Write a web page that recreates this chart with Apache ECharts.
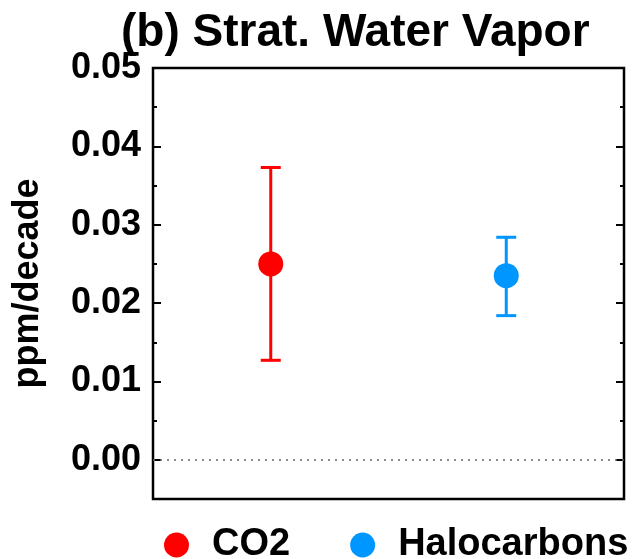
<!DOCTYPE html>
<html>
<head>
<meta charset="utf-8">
<script src="https://cdn.jsdelivr.net/npm/echarts@6/dist/echarts.min.js"></script>
<style>
html,body{margin:0;padding:0;background:#fff;}
#chart{width:635px;height:559px;}
</style>
</head>
<body>
<div id="chart"></div>
<script>
// ---- data ----
const seriesNames = ['CO2', 'Halocarbons'];
const xPositions = [1, 3];
const centralValues = [0.0250, 0.0235];
const lowerValues = [0.0127, 0.0184];
const upperValues = [0.0373, 0.0284];
const seriesColors = ['#ff0000', '#0096ff'];
const majorTicks = [0, 0.01, 0.02, 0.03, 0.04, 0.05];
const minorTicks = [-0.005, 0.005, 0.015, 0.025, 0.035, 0.045];
const yMin = -0.005, yMax = 0.05;
const xMin = 0, xMax = 4;
const titleText = '(b) Strat. Water Vapor';
const yAxisTitle = 'ppm/decade';

const FONT = 'Liberation Sans';
const chart = echarts.init(document.getElementById('chart'), null, {renderer: 'canvas'});

function yAxisDef(pos, ticks, len, showLabel, extra) {
  return Object.assign({
    type: 'value', position: pos, min: yMin, max: yMax,
    axisLine: {show: false},
    splitLine: {show: false},
    axisTick: {show: true, inside: true, length: len, customValues: ticks,
               lineStyle: {color: '#000', width: 2}},
    axisLabel: showLabel ? {
      show: true, customValues: ticks, margin: 12,
      formatter: v => v.toFixed(2),
      color: '#000', fontFamily: FONT, fontWeight: 'bold', fontSize: 36
    } : {show: false}
  }, extra || {});
}

const errorSeries = seriesNames.map((n, i) => ({
  name: n + ' range',
  type: 'custom',
  xAxisIndex: 0, yAxisIndex: 0,
  z: 2,
  silent: true,
  data: [[xPositions[i], lowerValues[i], upperValues[i]]],
  renderItem: function (params, api) {
    const x = api.value(0);
    const lo = api.coord([x, api.value(1)]);
    const hi = api.coord([x, api.value(2)]);
    const hw = 10;
    const style = {stroke: seriesColors[i], lineWidth: 3};
    return {
      type: 'group',
      children: [
        {type: 'line', shape: {x1: lo[0], y1: lo[1], x2: hi[0], y2: hi[1]}, style},
        {type: 'line', shape: {x1: lo[0]-hw, y1: lo[1], x2: lo[0]+hw, y2: lo[1]}, style},
        {type: 'line', shape: {x1: hi[0]-hw, y1: hi[1], x2: hi[0]+hw, y2: hi[1]}, style}
      ]
    };
  }
}));

const pointSeries = seriesNames.map((n, i) => {
  const s = {
    name: n, type: 'scatter', symbol: 'circle', symbolSize: 25, z: 5,
    itemStyle: {color: seriesColors[i], opacity: 1},
    data: [[xPositions[i], centralValues[i]]]
  };
  if (i === 0) {
    s.markLine = {
      silent: true, symbol: ['none', 'none'], label: {show: false},
      lineStyle: {color: '#666', type: [2, 5], width: 1.5},
      data: [{yAxis: 0}]
    };
  }
  return s;
});

chart.setOption({
  animation: false,
  backgroundColor: '#fff',
  title: {
    text: titleText, left: 116, top: 5,
    textStyle: {fontFamily: FONT, fontWeight: 'bold', fontSize: 46, color: '#000'}
  },
  grid: {left: 153, right: 11, top: 68, bottom: 60, show: true, outerBoundsMode: 'none',
         containLabel: false,
         borderColor: '#000', borderWidth: 2.5, backgroundColor: 'transparent'},
  xAxis: {type: 'value', min: xMin, max: xMax, show: false},
  yAxis: [
    yAxisDef('left', majorTicks, 8, true, {
      name: yAxisTitle, nameLocation: 'middle', nameGap: 107, nameRotate: 90,
      nameTextStyle: {fontFamily: FONT, fontWeight: 'bold', fontSize: 36, color: '#000'}
    }),
    yAxisDef('left', minorTicks, 4, false),
    yAxisDef('right', majorTicks, 8, false),
    yAxisDef('right', minorTicks, 4, false)
  ],
  legend: {
    data: seriesNames.map((n, i) => ({name: n, icon: 'circle', itemStyle: {color: seriesColors[i], opacity: 1}})),
    left: 159, top: 521, itemWidth: 25, itemHeight: 25, itemGap: 60,
    textStyle: {fontFamily: FONT, fontWeight: 'bold', fontSize: 38, color: '#000', padding: [0, 0, 0, 18]}
  },
  series: errorSeries.concat(pointSeries)
});
</script>
</body>
</html>
